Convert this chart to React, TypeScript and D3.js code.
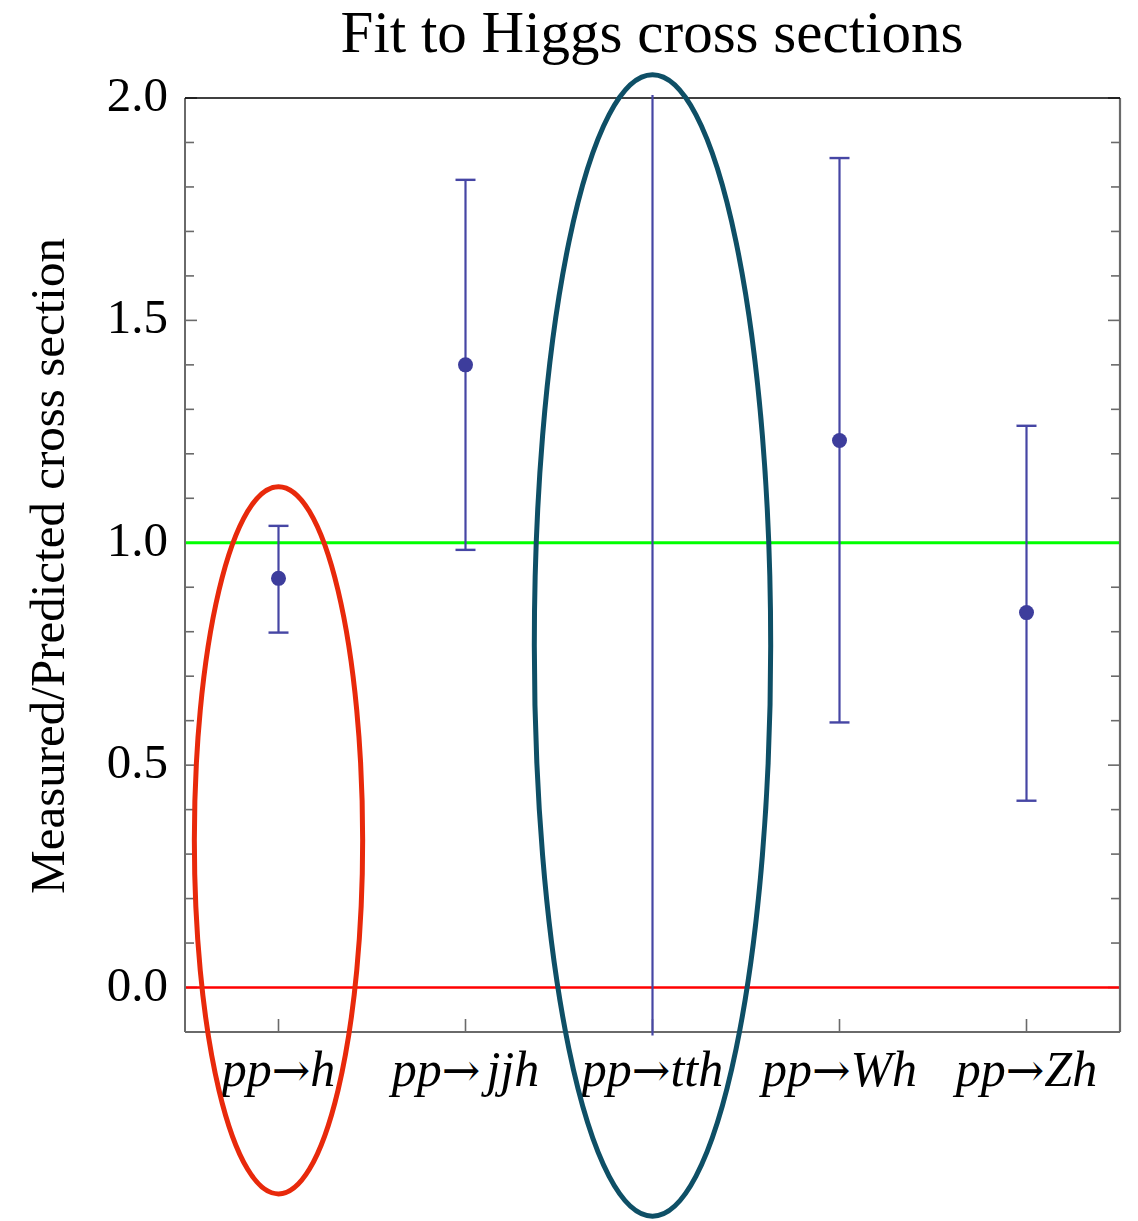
import React from "react";
import * as d3 from "d3";

const categories = ["pp→h", "pp→jjh", "pp→tth", "pp→Wh", "pp→Zh"];
const centralValues: (number | null)[] = [0.92, 1.4, null, 1.23, 0.843];
const lowerValues = [0.798, 0.984, -0.108, 0.596, 0.42];
const upperValues = [1.038, 1.816, 2.007, 1.865, 1.263];
const yTickLabels = [0, 0.5, 1.0, 1.5, 2.0];
const referenceLines = [1.0, 0.0];

// highlight ellipses: category index, centre value, value radius, half-width in band steps
const ellipseCategory = [0, 2];
const ellipseCentre = [0.331, 0.769];
const ellipseRadiusY = [0.795, 1.283];
const ellipseRadiusX = [0.45, 0.632];

const W = 1138;
const H = 1221;
const margin = { left: 185, right: 18, top: 98, bottom: 189 };
const serif = "'Liberation Serif', 'Times New Roman', serif";

export default function App() {
  const x0 = margin.left;
  const x1 = W - margin.right;
  const y0 = margin.top;
  const y1 = H - margin.bottom;

  const x = d3.scaleBand<string>().domain(categories).range([x0, x1]).padding(0);
  const y = d3.scaleLinear().domain([-0.1, 2.0]).range([y1, y0]);
  const step = x.step();
  const cx = (c: string) => (x(c) as number) + x.bandwidth() / 2;

  const minorTicks = d3.range(-1, 21).map((i) => i / 10);

  const errColor = "#4646a4";
  const ptColor = "#3d3d9c";
  const frameColor = "#6a6a6a";

  return (
    <svg
      width={W}
      height={H}
      style={{ position: "absolute", left: 0, top: 0, background: "#fff" }}
      fontFamily={serif}
    >
      <rect x={0} y={0} width={W} height={H} fill="#fff" />
      {/* title */}
      <text x={652} y={52} fontSize={59} textAnchor="middle" fill="#000">
        Fit to Higgs cross sections
      </text>

      {/* y ticks */}
      {minorTicks.map((t, i) => {
        const major = Math.abs(t * 2 - Math.round(t * 2)) < 1e-6;
        const len = major ? 12 : 9;
        return (
          <g key={"t" + i} stroke={frameColor} strokeWidth={1.6}>
            <line x1={x0} x2={x0 + len} y1={y(t)} y2={y(t)} />
            <line x1={x1} x2={x1 - len} y1={y(t)} y2={y(t)} />
          </g>
        );
      })}
      {yTickLabels.map((t) => (
        <text
          key={"yl" + t}
          x={168}
          y={y(t)}
          dy={13}
          fontSize={49}
          textAnchor="end"
          fill="#000"
        >
          {t.toFixed(1)}
        </text>
      ))}

      {/* x ticks */}
      {categories.map((c) => (
        <line
          key={"xt" + c}
          x1={cx(c)}
          x2={cx(c)}
          y1={y1}
          y2={y1 - 13}
          stroke={frameColor}
          strokeWidth={1.6}
        />
      ))}

      {/* reference lines */}
      <line x1={x0} x2={x1} y1={y(referenceLines[0])} y2={y(referenceLines[0])} stroke="#00ff00" strokeWidth={3} />
      <line x1={x0} x2={x1} y1={y(referenceLines[1])} y2={y(referenceLines[1])} stroke="#ff0000" strokeWidth={2.5} />

      {/* frame */}
      <line x1={x0} x2={x0} y1={y0} y2={y1} stroke={frameColor} strokeWidth={2} />
      <line x1={x1} x2={x1} y1={y0} y2={y1} stroke={frameColor} strokeWidth={2.2} />
      <line x1={x0} x2={x1} y1={y1} y2={y1} stroke={frameColor} strokeWidth={2} />
      <line x1={x0} x2={x1} y1={y0} y2={y0} stroke="#000" strokeWidth={1.6} />

      {/* error bars */}
      {categories.map((c, i) => {
        const xc = cx(c);
        const hasCaps = centralValues[i] !== null;
        const v = centralValues[i];
        return (
          <g key={"e" + c}>
            <line x1={xc} x2={xc} y1={y(lowerValues[i])} y2={y(upperValues[i])} stroke={errColor} strokeWidth={2.2} />
            {hasCaps && (
              <>
                <line x1={xc - 10} x2={xc + 10} y1={y(lowerValues[i])} y2={y(lowerValues[i])} stroke={errColor} strokeWidth={2.4} />
                <line x1={xc - 10} x2={xc + 10} y1={y(upperValues[i])} y2={y(upperValues[i])} stroke={errColor} strokeWidth={2.4} />
              </>
            )}
            {v !== null && <circle cx={xc} cy={y(v)} r={7.5} fill={ptColor} />}
          </g>
        );
      })}

      {/* category labels */}
      {categories.map((c) => {
        const [lhs, rhs] = c.split("→");
        return (
          <text
            key={"xl" + c}
            x={cx(c)}
            y={1086}
            fontSize={50}
            fontStyle="italic"
            textAnchor="middle"
            fill="#000"
          >
            <tspan>{lhs}</tspan>
            <tspan fontStyle="normal" fontFamily="'DejaVu Serif', serif" fontSize={46}>→</tspan>
            <tspan dx={rhs.startsWith("j") ? 6 : 0}>{rhs}</tspan>
          </text>
        );
      })}

      {/* y axis label */}
      <text
        transform="translate(64,566) rotate(-90)"
        fontSize={49}
        textAnchor="middle"
        fill="#000"
      >
        Measured/Predicted cross section
      </text>

      {/* highlight ellipses */}
      {ellipseCategory.map((ci, k) => {
        const c = categories[ci];
        const cyv = y(ellipseCentre[k]);
        const ry = y(0) - y(ellipseRadiusY[k]);
        return (
          <ellipse
            key={"el" + k}
            cx={cx(c)}
            cy={cyv}
            rx={ellipseRadiusX[k] * step}
            ry={ry}
            fill="none"
            stroke={k === 0 ? "#e8290b" : "#0e4f66"}
            strokeWidth={5}
          />
        );
      })}
    </svg>
  );
}
